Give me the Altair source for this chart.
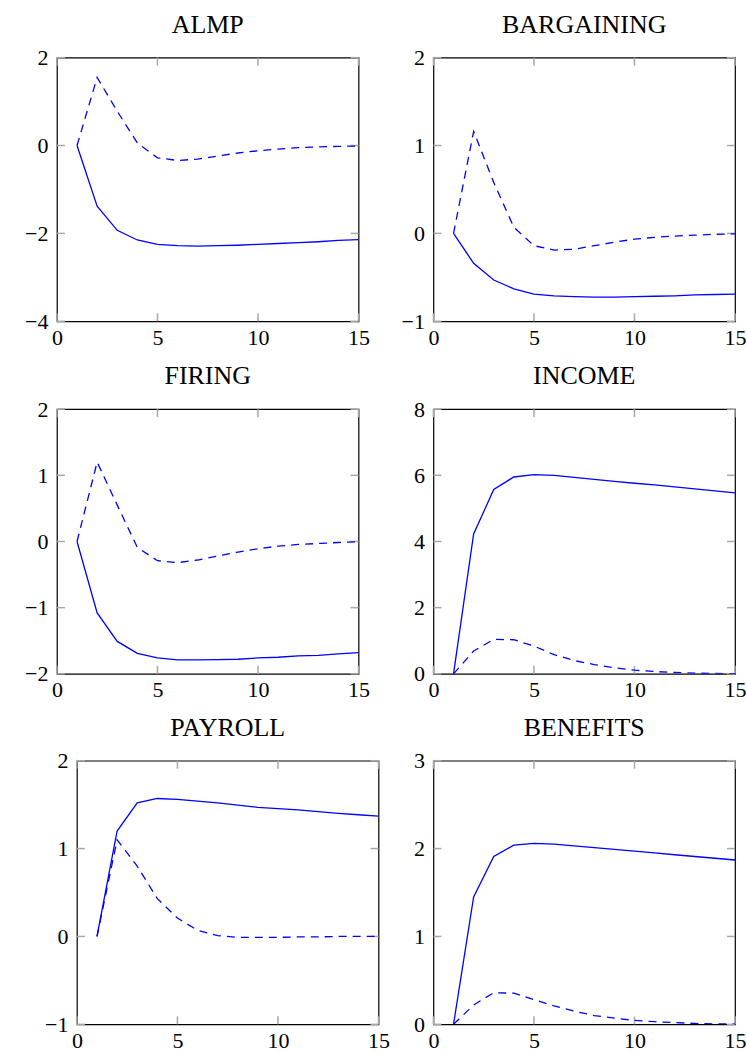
import altair as alt
import pandas as pd

FONT = "Liberation Serif"
BLUE = "#0000ff"
GRAY = "#a8a8a8"
W = 302
TL = 8  # inner tick length

steps = list(range(1, 16))
x_ticks = [0, 5, 10, 15]

# ALMP
almp_solid = [0, -1.38, -1.93, -2.15, -2.25, -2.28, -2.29, -2.28, -2.27, -2.25, -2.23, -2.21, -2.19, -2.16, -2.14]
almp_dashed = [0, 1.55, 0.78, 0.06, -0.28, -0.34, -0.31, -0.24, -0.17, -0.12, -0.08, -0.05, -0.03, -0.02, -0.01]
almp_yticks = [-4, -2, 0, 2]

# BARGAINING
barg_solid = [0, -0.34, -0.53, -0.63, -0.69, -0.71, -0.72, -0.725, -0.725, -0.72, -0.715, -0.71, -0.70, -0.695, -0.69]
barg_dashed = [0, 1.16, 0.58, 0.07, -0.14, -0.19, -0.18, -0.14, -0.10, -0.065, -0.045, -0.03, -0.02, -0.01, -0.005]
barg_yticks = [-1, 0, 1, 2]

# FIRING
firing_solid = [0, -1.08, -1.51, -1.69, -1.76, -1.79, -1.79, -1.785, -1.78, -1.76, -1.75, -1.73, -1.72, -1.70, -1.68]
firing_dashed = [0, 1.20, 0.55, -0.09, -0.29, -0.32, -0.28, -0.22, -0.16, -0.11, -0.07, -0.045, -0.03, -0.015, -0.005]
firing_yticks = [-2, -1, 0, 1, 2]

# INCOME
income_solid = [0, 4.23, 5.57, 5.95, 6.02, 6.00, 5.94, 5.88, 5.82, 5.76, 5.71, 5.65, 5.59, 5.53, 5.47]
income_dashed = [0, 0.69, 1.04, 1.03, 0.84, 0.58, 0.40, 0.28, 0.18, 0.11, 0.07, 0.04, 0.02, 0.01, 0.005]
income_yticks = [0, 2, 4, 6, 8]

# PAYROLL
payroll_solid = [0, 1.20, 1.52, 1.57, 1.56, 1.54, 1.52, 1.495, 1.47, 1.455, 1.44, 1.42, 1.40, 1.385, 1.37]
payroll_dashed = [0, 1.10, 0.80, 0.43, 0.21, 0.07, 0.01, -0.01, -0.01, -0.01, -0.005, -0.005, 0, 0, 0]
payroll_yticks = [-1, 0, 1, 2]

# BENEFITS
benefits_solid = [0, 1.45, 1.91, 2.04, 2.06, 2.05, 2.03, 2.01, 1.99, 1.97, 1.95, 1.93, 1.91, 1.89, 1.87]
benefits_dashed = [0, 0.22, 0.36, 0.355, 0.28, 0.21, 0.15, 0.10, 0.07, 0.045, 0.03, 0.02, 0.01, 0.005, 0.003]
benefits_yticks = [0, 1, 2, 3]


def panel(title, solid, dashed, yticks, H):
    df = pd.DataFrame({
        "x": steps + steps,
        "y": solid + dashed,
        "s": ["solid"] * len(steps) + ["dashed"] * len(steps),
    })
    X = alt.X("x:Q",
              scale=alt.Scale(domain=[0, 15], nice=False, zero=False),
              axis=alt.Axis(values=x_ticks, title=None, format="d", labelPadding=6))
    Y = alt.Y("y:Q",
              scale=alt.Scale(domain=[min(yticks), max(yticks)], nice=False, zero=False),
              axis=alt.Axis(values=yticks, title=None, format="d", labelPadding=9))
    base = alt.Chart(df)
    solid_l = base.transform_filter(alt.datum.s == "solid").mark_line(
        color=BLUE, strokeWidth=1.3, clip=True).encode(x=X, y=Y)
    dashed_l = base.transform_filter(alt.datum.s == "dashed").mark_line(
        color=BLUE, strokeWidth=1.3, strokeDash=[8, 6], clip=True).encode(x=X, y=Y)
    xt = alt.Chart(pd.DataFrame({"x": x_ticks}))
    yt = alt.Chart(pd.DataFrame({"y": yticks}))
    tb = xt.mark_rule(color=GRAY, strokeWidth=1.5).encode(x=X, y=alt.value(H), y2=alt.value(H - TL))
    ttop = xt.mark_rule(color=GRAY, strokeWidth=1.5).encode(x=X, y=alt.value(0), y2=alt.value(TL))
    tl = yt.mark_rule(color=GRAY, strokeWidth=1.5).encode(y=Y, x=alt.value(0), x2=alt.value(TL))
    tr = yt.mark_rule(color=GRAY, strokeWidth=1.5).encode(y=Y, x=alt.value(W), x2=alt.value(W - TL))
    return alt.layer(tb, ttop, tl, tr, solid_l, dashed_l).properties(
        width=W, height=H,
        title=alt.TitleParams(text=title, font=FONT, fontSize=26, fontWeight="normal",
                              color="black", anchor="middle", frame="group", offset=9),
    )


def spacer(w, h):
    return alt.Chart(pd.DataFrame({"a": [0]})).mark_point(opacity=0).encode(
        x=alt.value(0), y=alt.value(0)
    ).properties(width=w, height=h, view=alt.ViewConfig(stroke=None))


def row(left_w, hgap, a, b):
    return alt.hconcat(
        spacer(left_w, 305),
        alt.hconcat(a, b, spacing=hgap, bounds="flush"),
        spacing=0, bounds="flush",
    )


row1 = row(40, 75,
           panel("ALMP", almp_solid, almp_dashed, almp_yticks, 264),
           panel("BARGAINING", barg_solid, barg_dashed, barg_yticks, 264))
row2 = row(40, 75,
           panel("FIRING", firing_solid, firing_dashed, firing_yticks, 265),
           panel("INCOME", income_solid, income_dashed, income_yticks, 265))
row3 = row(60, 55,
           panel("PAYROLL", payroll_solid, payroll_dashed, payroll_yticks, 264),
           panel("BENEFITS", benefits_solid, benefits_dashed, benefits_yticks, 264))

chart = alt.vconcat(row1, row2, row3, spacing=0).properties(
    padding={"left": 14, "top": 10, "right": 0, "bottom": 0},
    background="white",
).configure_view(
    stroke="black", strokeWidth=1.2
).configure_axis(
    domain=False, ticks=False, grid=False,
    labelFont=FONT, labelFontSize=22, labelColor="black",
    labelFlush=False, labelOverlap=False, labelBound=False,
)

chart.save("out.html", embed_options={"renderer": "svg", "actions": False})
